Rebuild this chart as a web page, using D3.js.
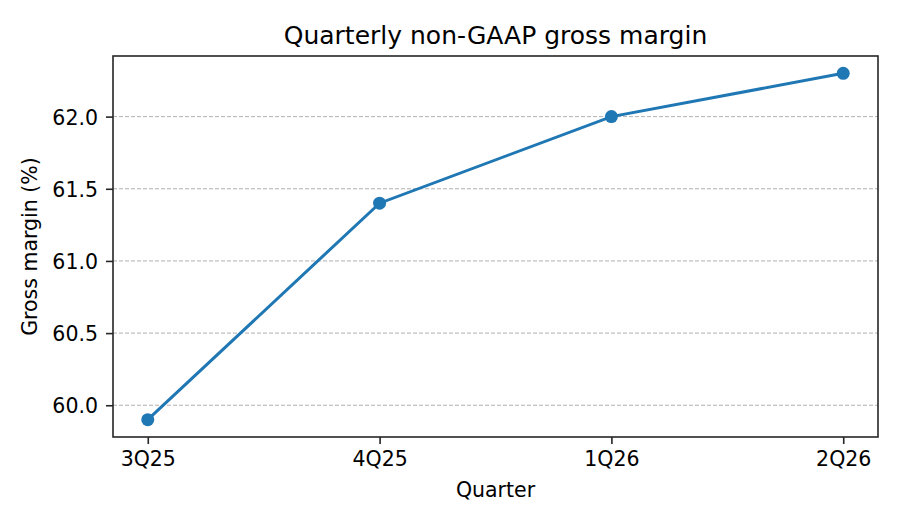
<!DOCTYPE html>
<html><head><meta charset="utf-8">
<script src="https://cdn.jsdelivr.net/npm/d3@7"></script>
<style>body{margin:0;background:#fff}svg{display:block}text{font-family:"DejaVu Sans",sans-serif;fill:#000}</style>
</head><body><svg id="c" width="900" height="525"></svg>
<script>
const quarters = ["3Q25","4Q25","1Q26","2Q26"];
const margins = [59.9, 61.4, 62.0, 62.3];
const yTicks = [60.0, 60.5, 61.0, 61.5, 62.0];

const svg = d3.select("#c");
const L = 113, R = 878, T = 56, B = 437;
const x = d3.scaleLinear().domain([-0.15, 3.15]).range([L, R]);
const y = d3.scaleLinear().domain([59.78, 62.42]).range([B, T]);
const FS = 20.5;

// grid
svg.append("g").selectAll("line").data(yTicks).join("line")
  .attr("x1", L).attr("x2", R).attr("y1", d => y(d)).attr("y2", d => y(d))
  .attr("stroke", "#a8a8a8").attr("stroke-width", 0.9).attr("stroke-dasharray", "4,2");

// axes
const ya = svg.append("g").attr("transform", `translate(${L},0)`)
  .call(d3.axisLeft(y).tickValues(yTicks).tickFormat(d3.format(".1f")).tickSize(7).tickPadding(8));
const xa = svg.append("g").attr("transform", `translate(0,${B})`)
  .call(d3.axisBottom(x).tickValues(d3.range(quarters.length)).tickFormat(i => quarters[i]).tickSize(7).tickPadding(7));
[ya, xa].forEach(g => {
  g.select(".domain").remove();
  g.selectAll("line").attr("stroke", "#262626").attr("stroke-width", 1.6);
  g.selectAll("text").attr("font-size", FS).attr("fill", "#000").attr("font-family", "DejaVu Sans");
});
ya.selectAll("text").attr("dy", "0.36em");

// frame
svg.append("rect").attr("x", L).attr("y", T).attr("width", R - L).attr("height", B - T)
  .attr("fill", "none").attr("stroke", "#262626").attr("stroke-width", 1.6);

// line
const line = d3.line().x((d, i) => x(i)).y(d => y(d));
svg.append("path").datum(margins).attr("d", line)
  .attr("fill", "none").attr("stroke", "#1f77b4").attr("stroke-width", 3);
svg.append("g").selectAll("circle").data(margins).join("circle")
  .attr("cx", (d, i) => x(i)).attr("cy", d => y(d)).attr("r", 6.5).attr("fill", "#1f77b4");

// labels
svg.append("text").attr("x", (L + R) / 2).attr("y", 44).attr("text-anchor", "middle")
  .attr("font-size", 25).text("Quarterly non-GAAP gross margin");
svg.append("text").attr("x", (L + R) / 2).attr("y", 497).attr("text-anchor", "middle")
  .attr("font-size", FS).text("Quarter");
svg.append("text").attr("transform", `translate(37,${(T + B) / 2}) rotate(-90)`).attr("text-anchor", "middle")
  .attr("font-size", FS).text("Gross margin (%)");
</script></body></html>
